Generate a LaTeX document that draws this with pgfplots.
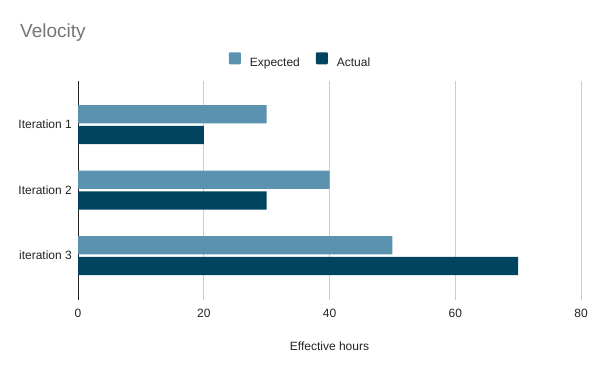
\documentclass[border=0pt]{standalone}
\usepackage{pgfplots}
\pgfplotsset{compat=1.18}
\usepackage{fontspec}
\setmainfont{Liberation Sans}
\definecolor{expc}{HTML}{5B92B0}
\definecolor{actc}{HTML}{00445F}
\definecolor{gridc}{HTML}{CCCCCC}
\definecolor{titlec}{HTML}{757575}
\definecolor{labc}{HTML}{222222}
\begin{document}
\begin{tikzpicture}[x=1bp,y=1bp]
\path (0,0) rectangle (600,371);
\node[anchor=base west, inner sep=0pt, text=titlec, font=\fontsize{19bp}{22bp}\selectfont] at (20,334) {Velocity};
\begin{axis}[
  at={(78bp,71bp)}, anchor=south west,
  scale only axis, width=503bp, height=219bp,
  xbar, bar width=0.28,
  xmin=0, xmax=80,
  ymin=-0.679, ymax=2.664,
  xtick={0,20,40,60,80},
  ytick={0,1,2},
  yticklabels={iteration 3, Iteration 2, Iteration 1},
  /pgf/number format/assume math mode=true,
  xmajorgrids, major grid style={gridc, line width=0.8bp},
  axis x line*=bottom, axis y line*=left,
  x axis line style={draw=none},
  y axis line style={draw=labc, line width=1bp},
  major tick length=0pt,
  tick label style={font=\fontsize{12bp}{14bp}\selectfont, text=labc},
  xticklabel style={anchor=base, yshift=-17bp},
  yticklabel style={anchor=east, inner sep=0pt, xshift=-6bp},
  xlabel={Effective hours},
  every axis x label/.style={at={(axis description cs:0.5,0)}, anchor=base, yshift=-50bp, font=\fontsize{12bp}{14bp}\selectfont, text=labc},
  legend columns=2,
  legend style={at={(0.4404,1.096)}, anchor=center, draw=none, fill=none, inner sep=0pt,
    font=\fontsize{12bp}{14bp}\selectfont, text=labc,
    nodes={inner sep=0pt},
    /tikz/every even column/.append style={column sep=16bp}},
  legend image code/.code={\fill[rounded corners=1bp] (0bp,-1.7bp) rectangle (12bp,10.3bp); \path (21bp,0bp);},
  clip=false,
]
\addplot[fill=expc, draw=none, bar shift=0.157] coordinates {(50,0) (40,1) (30,2)};
\addplot[fill=actc, draw=none, bar shift=-0.16] coordinates {(70,0) (30,1) (20,2)};
\legend{Expected, Actual}
\end{axis}
\end{tikzpicture}
\end{document}
